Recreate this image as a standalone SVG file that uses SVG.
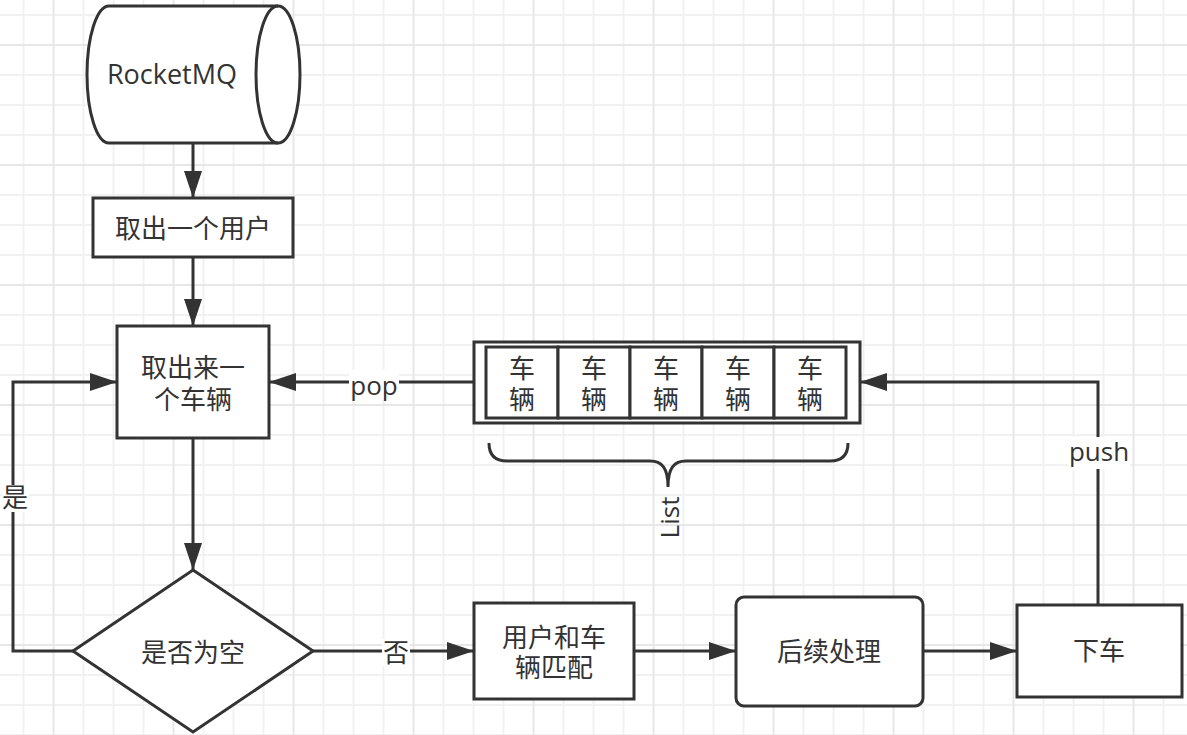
<svg xmlns="http://www.w3.org/2000/svg" width="1187" height="735" viewBox="0 0 1187 735">
<defs>
<pattern id="grid" patternUnits="userSpaceOnUse" x="38.5" y="30" width="120" height="120">
<path d="M45 0V120M75 0V120M105 0V120M0 45H120M0 75H120M0 105H120" stroke="#f1f1f1" stroke-width="2" fill="none"/>
<path d="M15 0V120M0 15H120" stroke="#e7e7e7" stroke-width="2" fill="none"/>
</pattern>
<marker id="arr" markerUnits="userSpaceOnUse" markerWidth="28" markerHeight="18" refX="27" refY="9" orient="auto" viewBox="0 0 28 18">
<path d="M0,0 L27,9 L0,18 Z" fill="#333"/>
</marker>
<style>
.n { fill: #fff; stroke: #333; stroke-width: 3; }
.e { fill: none; stroke: #333; stroke-width: 3; }
.c { font-family: "Noto Sans CJK SC", sans-serif; font-size: 26px; fill: #333; text-anchor: middle; }
.l { font-family: "Open Sans", "Noto Sans CJK SC", sans-serif; font-size: 26px; fill: #333; text-anchor: middle; }
.bg { fill: #fff; }
</style>
</defs>
<rect width="1187" height="735" fill="#fff"/>
<rect width="1187" height="735" fill="url(#grid)"/>

<g id="connectors">
<path class="e" d="M193,143 V198" marker-end="url(#arr)"/>
<path class="e" d="M193,257 V326" marker-end="url(#arr)"/>
<path class="e" d="M193,438 V570" marker-end="url(#arr)"/>
<path class="e" d="M474,382 H269" marker-end="url(#arr)"/>
<path class="e" d="M73,651 H13 V382 H117" marker-end="url(#arr)"/>
<path class="e" d="M313,651 H474" marker-end="url(#arr)"/>
<path class="e" d="M634,651 H736" marker-end="url(#arr)"/>
<path class="e" d="M923,651 H1017" marker-end="url(#arr)"/>
<path class="e" d="M1098,605 V382 H860" marker-end="url(#arr)"/>
<rect class="bg" x="349" y="370" width="50" height="30"/>
<text class="l" x="374" y="395">pop</text>
<rect class="bg" x="2" y="485" width="27" height="27"/>
<text class="c" x="15" y="507">是</text>
<rect class="bg" x="382" y="639" width="28" height="27"/>
<text class="c" x="396" y="662">否</text>
<rect class="bg" x="1068" y="437" width="62" height="32"/>
<text class="l" x="1099" y="461">push</text>
</g>

<g id="rocketmq">
<path class="n" d="M109,6 H278 A22,68.5 0 0 1 278,143 H109 A22,68.5 0 0 1 109,6 Z"/>
<path class="e" d="M278,6 A22,68.5 0 0 0 278,143"/>
<text class="l" x="172" y="84" style="font-size:27px">RocketMQ</text>
</g>

<g id="take-user">
<rect class="n" x="93" y="198" width="200" height="59"/>
<text class="c" x="193" y="238">取出一个用户</text>
</g>

<g id="take-vehicle">
<rect class="n" x="117" y="326" width="152" height="112"/>
<text class="c" x="193" y="377">取出来一<tspan x="193" dy="32">个车辆</tspan></text>
</g>

<g id="is-empty">
<path class="n" d="M193,570 L313,651 L193,732 L73,651 Z"/>
<text class="c" x="193" y="662">是否为空</text>
</g>

<g id="list">
<rect class="n" x="474" y="342" width="386" height="81"/>
<rect class="n" x="486" y="347" width="72" height="71"/>
<rect class="n" x="558" y="347" width="72" height="71"/>
<rect class="n" x="630" y="347" width="72" height="71"/>
<rect class="n" x="702" y="347" width="72" height="71"/>
<rect class="n" x="774" y="347" width="72" height="71"/>
<text class="c" x="522" y="377.5">车<tspan x="522" dy="31">辆</tspan></text>
<text class="c" x="594" y="377.5">车<tspan x="594" dy="31">辆</tspan></text>
<text class="c" x="666" y="377.5">车<tspan x="666" dy="31">辆</tspan></text>
<text class="c" x="738" y="377.5">车<tspan x="738" dy="31">辆</tspan></text>
<text class="c" x="810" y="377.5">车<tspan x="810" dy="31">辆</tspan></text>
</g>

<g id="list-brace">
<path class="e" d="M489,443 C489,455 495,461 507,461 L650,461 C662,461 668,468 668,487 M848,443 C848,455 842,461 830,461 L686,461 C674,461 668,468 668,487"/>
<text class="l" transform="translate(679,517.5) rotate(-90)">List</text>
</g>

<g id="match">
<rect class="n" x="474" y="603" width="160" height="96"/>
<text class="c" x="554" y="646.5">用户和车<tspan x="554" dy="30.5">辆匹配</tspan></text>
</g>

<g id="post-process">
<rect class="n" x="736" y="597" width="187" height="109" rx="8" ry="8"/>
<text class="c" x="829" y="660.5">后续处理</text>
</g>

<g id="get-off">
<rect class="n" x="1017" y="605" width="165" height="92"/>
<text class="c" x="1099" y="660">下车</text>
</g>
</svg>
